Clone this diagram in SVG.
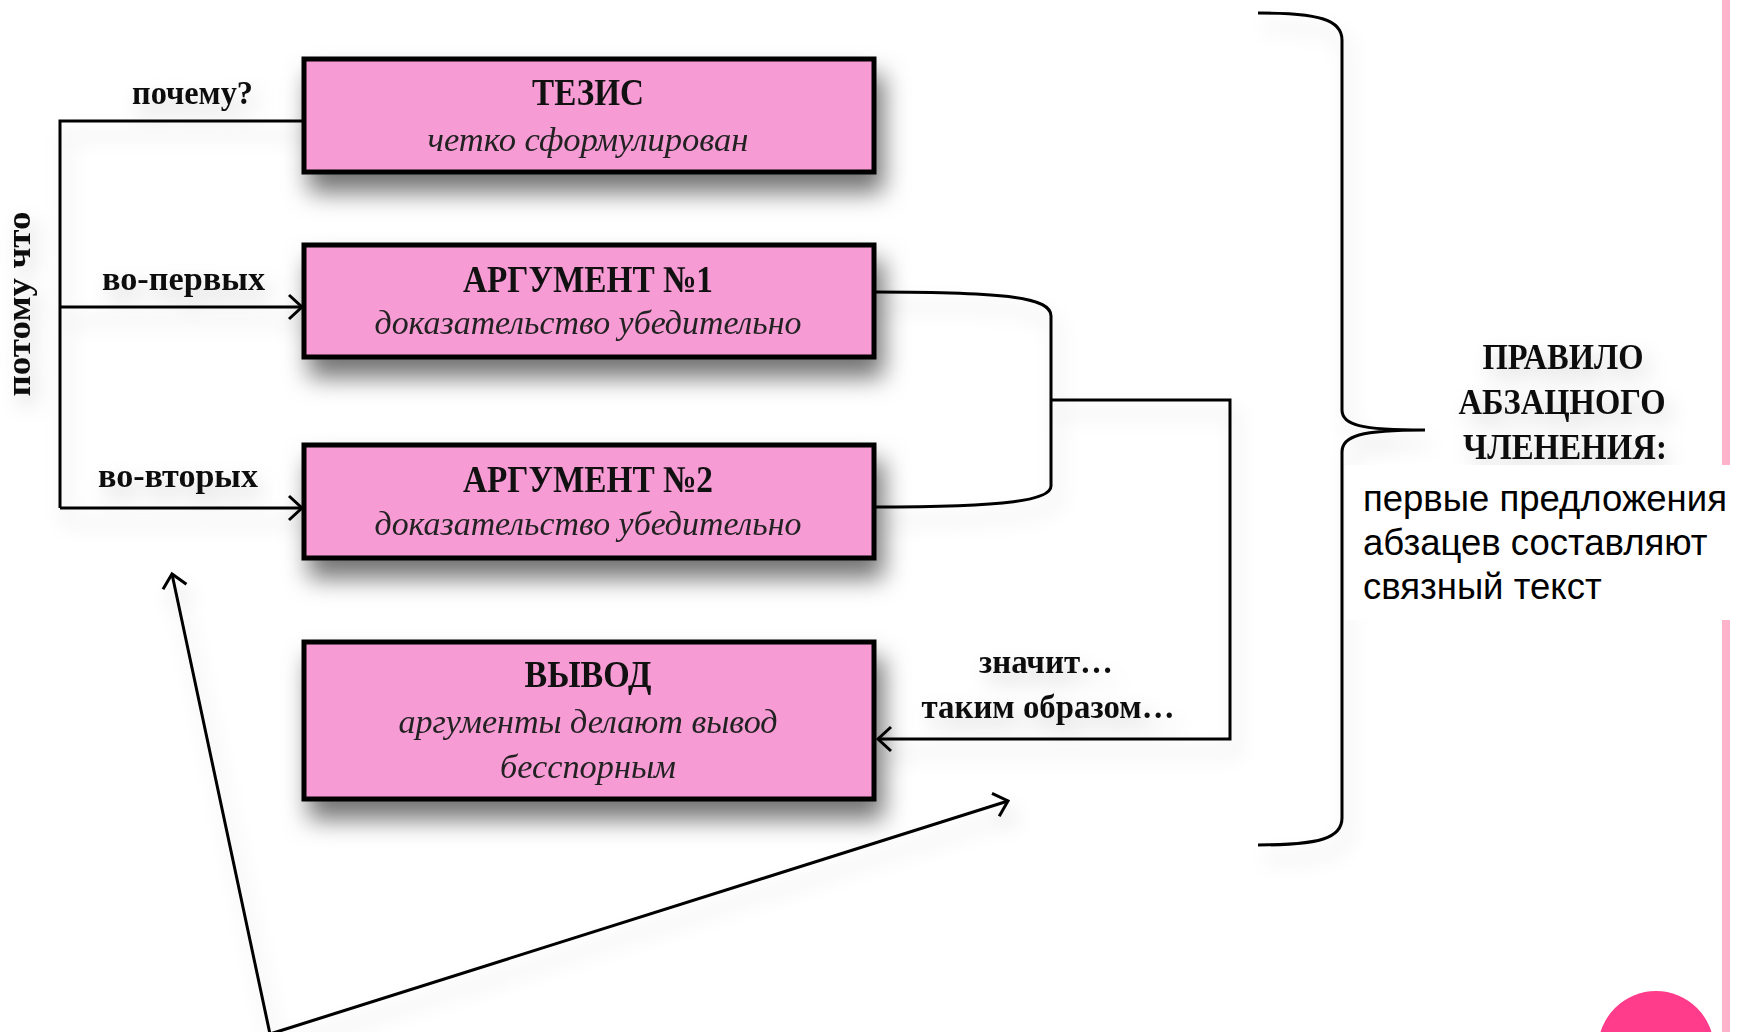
<svg xmlns="http://www.w3.org/2000/svg" width="1739" height="1032" viewBox="0 0 1739 1032">
<defs>
<style>
.box{fill:#F79BD5;stroke:#000;stroke-width:5}
.ttl{font-family:"Liberation Serif",serif;font-weight:bold;font-size:38px;fill:#111;text-anchor:middle}
.sub{font-family:"Liberation Serif",serif;font-style:italic;font-size:34px;fill:#222;text-anchor:middle}
.lbl{font-family:"Liberation Serif",serif;font-weight:bold;font-size:33px;fill:#111}
.rule{font-family:"Liberation Serif",serif;font-weight:bold;font-size:35px;fill:#111;text-anchor:middle}
.sans{font-family:"Liberation Sans",Arial,sans-serif;font-size:36.5px;fill:#000}
.ln{fill:none;stroke:#000;stroke-width:3}
</style>
<filter id="bs" x="-20%" y="-40%" width="150%" height="200%">
<feDropShadow dx="7" dy="18" stdDeviation="12" flood-color="#000" flood-opacity="0.55"/>
</filter>
<filter id="ls" x="-20%" y="-20%" width="140%" height="160%">
<feDropShadow dx="6" dy="14" stdDeviation="10" flood-color="#000" flood-opacity="0.16"/>
</filter>
<filter id="ts" x="-30%" y="-60%" width="160%" height="250%">
<feDropShadow dx="6" dy="10" stdDeviation="10" flood-color="#000" flood-opacity="0.18"/>
</filter>
<marker id="arr" markerWidth="22" markerHeight="30" refX="15" refY="13" orient="auto-start-reverse" markerUnits="userSpaceOnUse" viewBox="0 0 22 26">
<path d="M2,1 L15,13 L2,25" fill="none" stroke="#000" stroke-width="3"/>
</marker>
</defs>
<rect width="1739" height="1032" fill="#fff"/>

<!-- decorative pink rule and circle -->
<rect x="1722" y="0" width="8" height="1032" fill="#FFB3CB"/>
<circle cx="1656" cy="1049" r="58" fill="#FF3B8B"/>

<g id="connectors" filter="url(#ls)">
<path class="ln" d="M304,121 L60,121 L60,508"/>
<path class="ln" d="M60,307 L302,307" marker-end="url(#arr)"/>
<path class="ln" d="M60,508 L302,508" marker-end="url(#arr)"/>
<path class="ln" d="M874,292 C1010,292 1051,298 1051,316 L1051,486 C1051,500 1010,507 874,507"/>
<path class="ln" d="M1051,400 L1230,400 L1230,739 L878,739" marker-end="url(#arr)"/>
<path class="ln" d="M172,574 L270,1034 L1008,801" marker-end="url(#arr)" marker-start="url(#arr)"/>
<path class="ln" d="M1258,13 C1320,13 1342,20 1342,40 L1342,410 C1342,425 1360,430 1425,430 C1360,430 1342,436 1342,452 L1342,818 C1342,838 1320,845 1258,845"/>
</g>

<g id="labels" filter="url(#ts)">
<text class="lbl" x="132" y="104" textLength="121" lengthAdjust="spacingAndGlyphs">почему?</text>
<text class="lbl" x="102" y="290" textLength="163" lengthAdjust="spacingAndGlyphs">во-первых</text>
<text class="lbl" x="98" y="487" textLength="160" lengthAdjust="spacingAndGlyphs">во-вторых</text>
<text class="lbl" transform="translate(30,304) rotate(-90)" x="0" y="0" text-anchor="middle" font-size="29" textLength="185" lengthAdjust="spacingAndGlyphs">потому что</text>
<text class="lbl" x="1046" y="673" text-anchor="middle" textLength="134" lengthAdjust="spacingAndGlyphs">значит…</text>
<text class="lbl" x="1048" y="718" text-anchor="middle" textLength="253" lengthAdjust="spacingAndGlyphs">таким образом…</text>
</g>

<g id="node-tezis">
<rect class="box" x="304" y="59" width="570" height="113" filter="url(#bs)"/>
<text class="ttl" x="588" y="105" textLength="112" lengthAdjust="spacingAndGlyphs">ТЕЗИС</text>
<text class="sub" x="588" y="151" textLength="321" lengthAdjust="spacingAndGlyphs">четко сформулирован</text>
</g>

<g id="node-arg1">
<rect class="box" x="304" y="245" width="570" height="112" filter="url(#bs)"/>
<text class="ttl" x="588" y="292" textLength="250" lengthAdjust="spacingAndGlyphs">АРГУМЕНТ №1</text>
<text class="sub" x="588" y="334" textLength="427" lengthAdjust="spacingAndGlyphs">доказательство убедительно</text>
</g>

<g id="node-arg2">
<rect class="box" x="304" y="445" width="570" height="113" filter="url(#bs)"/>
<text class="ttl" x="588" y="492" textLength="250" lengthAdjust="spacingAndGlyphs">АРГУМЕНТ №2</text>
<text class="sub" x="588" y="535" textLength="427" lengthAdjust="spacingAndGlyphs">доказательство убедительно</text>
</g>

<g id="node-vyvod">
<rect class="box" x="304" y="642" width="570" height="157" filter="url(#bs)"/>
<text class="ttl" x="588" y="687" textLength="127" lengthAdjust="spacingAndGlyphs">ВЫВОД</text>
<text class="sub" x="588" y="733" textLength="379" lengthAdjust="spacingAndGlyphs">аргументы делают вывод</text>
<text class="sub" x="588" y="778" textLength="176" lengthAdjust="spacingAndGlyphs">бесспорным</text>
</g>

<g id="node-rule">
<g filter="url(#ts)">
<text class="rule" x="1563" y="369" textLength="161" lengthAdjust="spacingAndGlyphs">ПРАВИЛО</text>
<text class="rule" x="1562" y="414" textLength="207" lengthAdjust="spacingAndGlyphs">АБЗАЦНОГО</text>
<text class="rule" x="1565" y="459" textLength="204" lengthAdjust="spacingAndGlyphs">ЧЛЕНЕНИЯ:</text>
</g>
<rect x="1345" y="465" width="394" height="155" fill="#fff"/>
<text class="sans" x="1363" y="511">первые предложения</text>
<text class="sans" x="1363" y="555">абзацев составляют</text>
<text class="sans" x="1363" y="599">связный текст</text>
</g>
</svg>
